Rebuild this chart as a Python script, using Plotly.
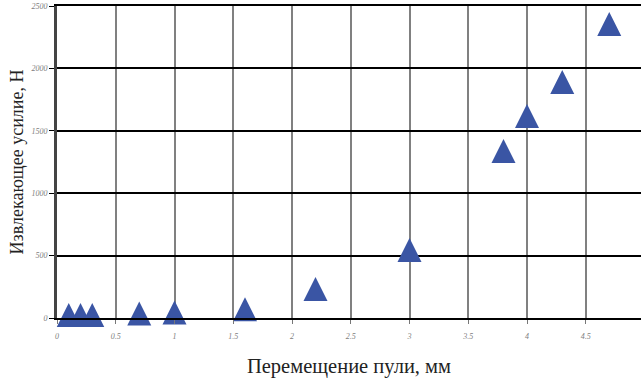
import plotly.graph_objects as go

x_mm = [0.1, 0.2, 0.3, 0.7, 1.0, 1.6, 2.2, 3.0, 3.8, 4.0, 4.3, 4.7]
force_n = [25, 25, 25, 36, 44, 70, 232, 545, 1338, 1619, 1891, 2356]
x_ticks = [0, 0.5, 1, 1.5, 2, 2.5, 3, 3.5, 4, 4.5]
x_tick_text = ["0", "0.5", "1", "1.5", "2", "2.5", "3", "3.5", "4", "4.5"]
y_ticks = [0, 500, 1000, 1500, 2000, 2500]
y_tick_text = ["0", "500", "1000", "1500", "2000", "2500"]

fig = go.Figure()
fig.add_trace(go.Scatter(
    x=x_mm, y=force_n, mode="markers",
    marker=dict(symbol="arrow-down", angle=180, size=24, color="#3a55a4",
                standoff=12, line=dict(width=0)),
    showlegend=False, cliponaxis=False, hoverinfo="skip",
))

tickfont = dict(family="Liberation Serif", size=8, color="#808080", style="italic")
fig.update_layout(
    width=641, height=378,
    margin=dict(l=57, r=0, t=6, b=60),
    paper_bgcolor="white", plot_bgcolor="white",
    xaxis=dict(
        range=[0, 4.97], tickvals=x_ticks, ticktext=x_tick_text,
        showgrid=True, gridcolor="#808080", gridwidth=2,
        showline=True, linecolor="black", linewidth=2, mirror=True,
        ticks="outside", ticklen=4, tickcolor="#777777", tickwidth=1,
        ticklabelstandoff=5,
        tickfont=tickfont, zeroline=False, automargin=False,
        title=dict(text="Перемещение пули, мм",
                   font=dict(family="Liberation Serif", size=20.5, color="#222222"),
                   standoff=24),
    ),
    yaxis=dict(
        range=[0, 2500], tickvals=y_ticks, ticktext=y_tick_text,
        showgrid=True, gridcolor="black", gridwidth=1.5,
        showline=True, linecolor="#444444", linewidth=3,
        ticks="outside", ticklen=5, tickcolor="black", tickwidth=1,
        tickfont=tickfont, zeroline=False, automargin=False,
        title=dict(text="Извлекающее усилие, Н",
                   font=dict(family="Liberation Serif", size=18, color="#222222"),
                   standoff=4),
    ),
)
fig.write_html("out.html", config={"displayModeBar": False},
               post_script="document.body.style.margin='0px';document.body.style.overflow='hidden';")
